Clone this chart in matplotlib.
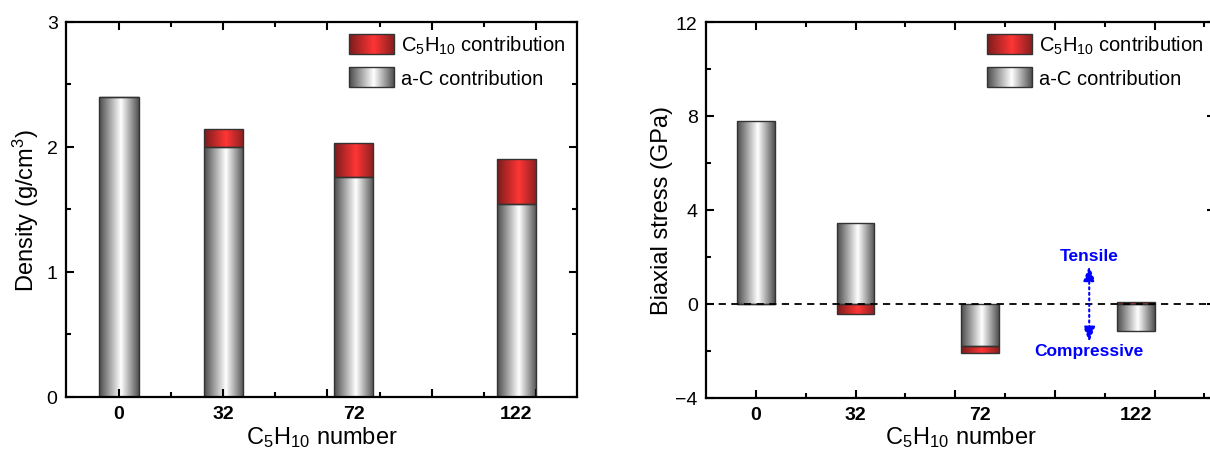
import numpy as np
import matplotlib
matplotlib.use("Agg")
import matplotlib.pyplot as plt
from matplotlib.colors import LinearSegmentedColormap
from matplotlib.legend_handler import HandlerBase
from matplotlib.image import BboxImage
from matplotlib.transforms import Bbox, TransformedBbox
from matplotlib.patches import Rectangle, Patch

plt.rcParams['font.family'] = ['Liberation Sans', 'DejaVu Sans']
plt.rcParams['mathtext.fontset'] = 'custom'
plt.rcParams['mathtext.rm'] = 'Liberation Sans'
plt.rcParams['mathtext.it'] = 'Liberation Sans:italic'
plt.rcParams['mathtext.bf'] = 'Liberation Sans:bold'
plt.rcParams['mathtext.default'] = 'regular'

# data
numbers = [0, 32, 72, 122]
dens_aC = [2.40, 2.00, 1.76, 1.54]
dens_c5 = [0.00, 0.14, 0.27, 0.36]
stress_aC = [7.78, 3.45, -1.80, -1.15]
stress_c5 = [0.00, -0.43, -0.28, 0.07]

gray_cmap = LinearSegmentedColormap.from_list(
    "cyl_gray", [(0, "#4a4a4a"), (0.55, "#ffffff"), (1, "#505050")])
red_cmap = LinearSegmentedColormap.from_list(
    "cyl_red", [(0, "#7a1c1c"), (0.55, "#ff3535"), (1, "#8a1f1f")])
grad = np.linspace(0, 1, 256).reshape(1, -1)


def fill_gradient(ax, bars, cmap):
    for b in bars:
        x, y = b.get_xy()
        w, h = b.get_width(), b.get_height()
        if h == 0:
            continue
        im = ax.imshow(grad, cmap=cmap, extent=(x, x + w, y, y + h),
                       aspect='auto', interpolation='bilinear', zorder=1)
        im.set_clip_path(b)


class GradientHandler(HandlerBase):
    def __init__(self, cmap):
        super().__init__()
        self.cmap = cmap

    def create_artists(self, legend, orig_handle, xdescent, ydescent,
                       width, height, fontsize, trans):
        bb = Bbox.from_bounds(-xdescent, -ydescent, width, height)
        img = BboxImage(TransformedBbox(bb, trans), cmap=self.cmap,
                        interpolation='bilinear')
        img.set_data(grad)
        rect = Rectangle((-xdescent, -ydescent), width, height, fc='none',
                         ec='#333333', lw=1.0, transform=trans)
        return [img, rect]


def style_axis(ax, xlim, ylim, ymaj, ymin):
    ax.set_xlim(*xlim)
    ax.set_ylim(*ylim)
    ax.set_xticks(np.arange(0, xlim[1], 32))
    ax.set_xticks(np.arange(16, xlim[1], 32), minor=True)
    ax.set_xticklabels([])
    ax.set_yticks(np.arange(ylim[0], ylim[1] + 0.01, ymaj))
    ax.set_yticks(np.arange(ylim[0], ylim[1] + 0.01, ymin), minor=True)
    ax.tick_params(which='both', direction='in', top=True, right=True,
                   width=1.5, labelsize=14, pad=6)
    ax.tick_params(which='major', length=6)
    ax.tick_params(which='minor', length=3.5)
    for s in ax.spines.values():
        s.set_linewidth(1.6)
    sec = ax.secondary_xaxis('bottom')
    sec.set_xticks(numbers)
    sec.set_xticklabels([str(n) for n in numbers], fontweight='bold')
    sec.tick_params(length=0, labelsize=14, pad=6)
    sec.spines['bottom'].set_visible(False)
    sec.set_xlabel('C$_5$H$_{10}$ number', fontsize=17, labelpad=1)


def add_legend(ax):
    handles = [Patch(label='C$_5$H$_{10}$ contribution'), Patch(label='a-C contribution')]
    hmap = {handles[0]: GradientHandler(red_cmap), handles[1]: GradientHandler(gray_cmap)}
    ax.legend(handles=handles, handler_map=hmap, loc='upper right', frameon=False,
              fontsize=14.5, handlelength=2.2, handleheight=1.15, labelspacing=0.55,
              handletextpad=0.35, borderaxespad=0.2, bbox_to_anchor=(1.0, 1.0))


fig = plt.figure(figsize=(12.1, 4.6), dpi=100)
ax1 = fig.add_axes([0.0545, 0.135, 0.4225, 0.815])
ax2 = fig.add_axes([0.5835, 0.133, 0.4207, 0.817])

width = 12

# left panel: density
b1 = ax1.bar(numbers, dens_aC, width, fc='none', ec='#333333', lw=1.0, zorder=2)
b2 = ax1.bar(numbers, dens_c5, width, bottom=dens_aC, fc='none', ec='#333333', lw=1.0, zorder=2)
fill_gradient(ax1, b1, gray_cmap)
fill_gradient(ax1, b2, red_cmap)
style_axis(ax1, (-16.3, 140.7), (0, 3), 1, 0.5)
ax1.set_ylabel('Density (g/cm$^3$)', fontsize=17, labelpad=4)
add_legend(ax1)

# right panel: biaxial stress
bottom_c5 = np.where(np.sign(stress_c5) == np.sign(stress_aC), stress_aC, 0)
s1 = ax2.bar(numbers, stress_aC, width, fc='none', ec='#333333', lw=1.0, zorder=2)
s2 = ax2.bar(numbers, stress_c5, width, bottom=bottom_c5, fc='none', ec='#333333', lw=1.0, zorder=2)
fill_gradient(ax2, s1, gray_cmap)
fill_gradient(ax2, s2, red_cmap)
ax2.axhline(0, color='k', ls=(0, (4, 3)), lw=1.3, zorder=3)
style_axis(ax2, (-16, 147.4), (-4, 12), 4, 2)
ax2.set_ylabel('Biaxial stress (GPa)', fontsize=17, labelpad=2)
add_legend(ax2)

ax2.annotate('', xy=(107, 1.62), xytext=(107, -1.62),
             arrowprops=dict(arrowstyle='<|-|>,head_length=0.9,head_width=0.35',
                             color='blue', lw=1.5, ls=':', shrinkA=0, shrinkB=0),
             zorder=4)
ax2.text(107, 2.06, 'Tensile', color='blue', fontsize=12.5, fontweight='bold',
         ha='center', va='center')
ax2.text(107, -1.99, 'Compressive', color='blue', fontsize=12.5, fontweight='bold',
         ha='center', va='center')

fig.savefig('out.png', dpi=100)
